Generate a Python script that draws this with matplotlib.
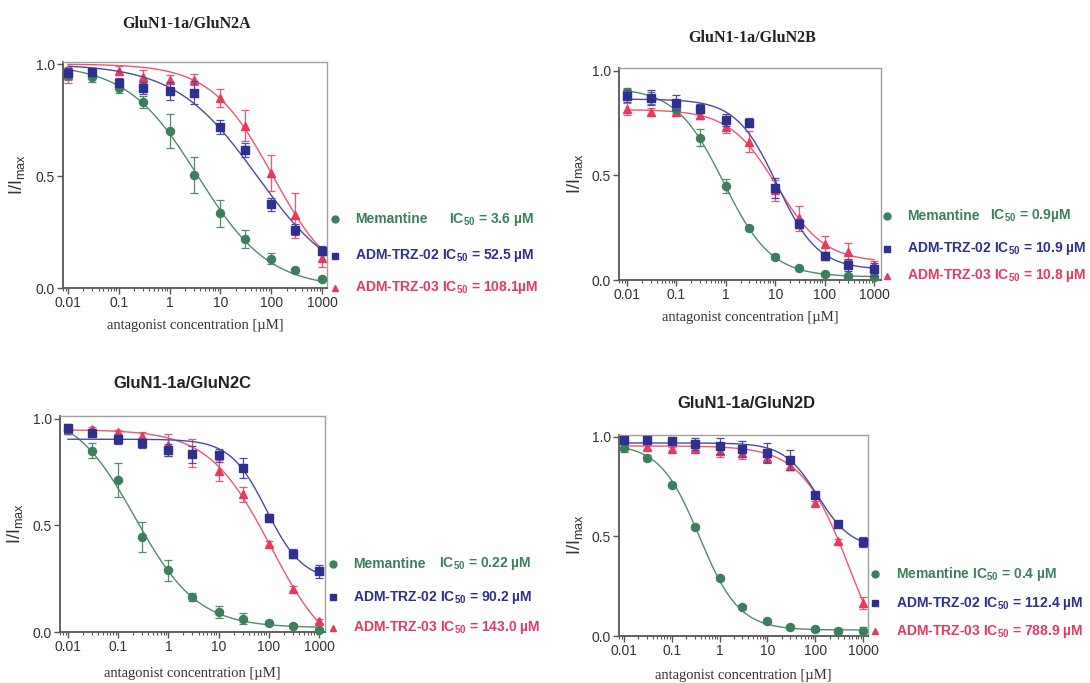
import numpy as np
import matplotlib
matplotlib.use("Agg")
from matplotlib import pyplot as plt
from matplotlib import ticker
from matplotlib.lines import Line2D

plt.rcParams["font.family"] = ["Liberation Sans", "DejaVu Sans"]
plt.rcParams["mathtext.default"] = "regular"

W, H = 1090, 683

GREEN = "#3d7f5c"
BLUE = "#2f2f8f"
RED = "#e8395c"
GREEN_LINE = "#4f8c6c"
BLUE_LINE = "#4a4aa3"
RED_LINE = "#ef5573"

conc = [0.01, 0.03, 0.1, 0.3, 1, 3, 10, 30, 100, 300, 1000]

# GluN2A
a_mem = [0.95, 0.94, 0.895, 0.83, 0.70, 0.505, 0.334, 0.22, 0.13, 0.079, 0.04]
a_mem_err = [0.02, 0.02, 0.025, 0.025, 0.075, 0.08, 0.06, 0.04, 0.025, 0.01, 0.01]
a_02 = [0.96, 0.966, 0.917, 0.893, 0.881, 0.872, 0.719, 0.617, 0.374, 0.26, 0.166]
a_02_err = [0.02, 0.015, 0.02, 0.025, 0.04, 0.05, 0.03, 0.03, 0.03, 0.025, 0.02]
a_03 = [0.95, 0.96, 0.97, 0.944, 0.93, 0.93, 0.847, 0.725, 0.513, 0.324, 0.134]
a_03_err = [0.035, 0.02, 0.02, 0.03, 0.02, 0.025, 0.04, 0.07, 0.08, 0.1, 0.04]

# GluN2B
b_mem = [0.90, 0.87, 0.817, 0.68, 0.45, 0.25, 0.112, 0.056, 0.029, 0.019, 0.016]
b_mem_err = [0.02, 0.03, 0.02, 0.04, 0.035, 0.01, 0.01, 0.01, 0.01, 0.01, 0.01]
b_02 = [0.88, 0.872, 0.848, 0.82, 0.765, 0.753, 0.44, 0.27, 0.116, 0.072, 0.051]
b_02_err = [0.03, 0.035, 0.035, 0.02, 0.03, 0.02, 0.05, 0.02, 0.02, 0.03, 0.03]
b_03 = [0.817, 0.804, 0.805, 0.788, 0.73, 0.662, 0.43, 0.295, 0.17, 0.136, 0.07]
b_03_err = [0.03, 0.02, 0.02, 0.02, 0.025, 0.05, 0.05, 0.06, 0.04, 0.04, 0.02]

# GluN2C
c_mem = [0.948, 0.85, 0.713, 0.447, 0.29, 0.165, 0.094, 0.063, 0.042, 0.027, 0.011]
c_mem_err = [0.02, 0.035, 0.08, 0.07, 0.05, 0.02, 0.03, 0.025, 0.01, 0.01, 0.01]
c_02 = [0.956, 0.933, 0.904, 0.886, 0.854, 0.834, 0.83, 0.77, 0.536, 0.368, 0.285]
c_02_err = [0.02, 0.015, 0.02, 0.02, 0.03, 0.04, 0.03, 0.045, 0.02, 0.02, 0.03]
c_03 = [0.95, 0.951, 0.937, 0.92, 0.878, 0.84, 0.757, 0.646, 0.415, 0.204, 0.05]
c_03_err = [0.02, 0.01, 0.01, 0.02, 0.05, 0.065, 0.05, 0.035, 0.01, 0.01, 0.01]

# GluN2D
d_mem = [0.945, 0.894, 0.76, 0.55, 0.29, 0.148, 0.076, 0.047, 0.034, 0.025, 0.025]
d_mem_err = [0.02, 0.015, 0.01, 0.01, 0.01, 0.01, 0.01, 0.01, 0.01, 0.015, 0.02]
d_02 = [0.987, 0.983, 0.978, 0.966, 0.953, 0.94, 0.92, 0.886, 0.71, 0.562, 0.47]
d_02_err = [0.015, 0.01, 0.01, 0.03, 0.04, 0.04, 0.05, 0.05, 0.01, 0.01, 0.025]
d_03 = [0.953, 0.95, 0.94, 0.94, 0.928, 0.92, 0.894, 0.852, 0.668, 0.475, 0.168]
d_03_err = [0.01, 0.01, 0.01, 0.01, 0.03, 0.03, 0.02, 0.02, 0.01, 0.01, 0.03]

# Hill fit parameters: top, bottom, midpoint, slope
a_fits = [(1.0, 0.0, 3.6, 0.62), (1.0, 0.0, 52.5, 0.54), (1.0, 0.0, 108.1, 0.71)]
b_fits = [(0.92, 0.015, 0.9, 0.9), (0.865, 0.05, 10.9, 1.05), (0.815, 0.085, 10.8, 0.9)]
c_fits = [(1.05, 0.02, 0.22, 0.7), (0.905, 0.24, 90.2, 1.2), (0.95, -0.15, 110, 0.7)]
d_fits = [(0.965, 0.03, 0.38, 1.05), (0.97, 0.44, 112.4, 1.23), (0.955, -0.3, 550, 0.85)]

names = ["Memantine", "ADM-TRZ-02", "ADM-TRZ-03"]
a_ic50 = ["IC$_{50}$ = 3.6 µM", "IC$_{50}$ = 52.5 µM", "IC$_{50}$ = 108.1µM"]
b_ic50 = ["IC$_{50}$ = 0.9µM", "IC$_{50}$ = 10.9 µM", "IC$_{50}$ = 10.8 µM"]
c_ic50 = ["IC$_{50}$ = 0.22 µM", "IC$_{50}$ = 90.2 µM", "IC$_{50}$ = 143.0 µM"]
d_ic50 = ["IC$_{50}$ = 0.4 µM", "IC$_{50}$ = 112.4 µM", "IC$_{50}$ = 788.9 µM"]

titles = ["GluN1-1a/GluN2A", "GluN1-1a/GluN2B", "GluN1-1a/GluN2C", "GluN1-1a/GluN2D"]

SERIF = ["Liberation Serif", "DejaVu Serif"]


def hill(x, top, bottom, mid, n):
    return bottom + (top - bottom) / (1 + (x / mid) ** n)


def fx(x):
    return x / W


def fy(y):
    return 1 - y / H


fig = plt.figure(figsize=(W / 100, H / 100), dpi=100)

panels = [
    dict(box=(63, 62, 327, 288), xl=(-2.098, 3.098), yt=1.009,
         data=[(a_mem, a_mem_err), (a_02, a_02_err), (a_03, a_03_err)], fits=a_fits, ic=a_ic50,
         title=(187, 24, "serif"), xlab=(195, 325), ylab=(17, 175),
         leg_x=335, leg_rows=[219, 256, 288], name_x=355, ic_x=449),
    dict(box=(619, 68, 881, 280), xl=(-2.162, 3.142), yt=1.014,
         data=[(b_mem, b_mem_err), (b_02, b_02_err), (b_03, b_03_err)], fits=b_fits, ic=b_ic50,
         title=(752, 38, "serif"), xlab=(750, 318), ylab=(575, 174),
         leg_x=887, leg_rows=[216, 249, 276], name_x=907, ic_x=990),
    dict(box=(60, 416, 325, 632), xl=(-2.159, 3.12), yt=1.014,
         data=[(c_mem, c_mem_err), (c_02, c_02_err), (c_03, c_03_err)], fits=c_fits, ic=c_ic50,
         title=(182, 383, "sans"), xlab=(192, 673), ylab=(15, 524),
         leg_x=333, leg_rows=[564, 597, 628], name_x=353, ic_x=439),
    dict(box=(619, 435, 868, 636), xl=(-2.105, 3.105), yt=1.01,
         data=[(d_mem, d_mem_err), (d_02, d_02_err), (d_03, d_03_err)], fits=d_fits, ic=d_ic50,
         title=(746, 403, "sans"), xlab=(743, 675), ylab=(575, 535),
         leg_x=875, leg_rows=[574, 603, 631], name_x=896, ic_x=None),
]

colors = [GREEN, BLUE, RED]
line_colors = [GREEN_LINE, BLUE_LINE, RED_LINE]
markers = ["o", "s", "^"]
msizes = [5.8, 6.2, 6.2]
zorders = [4, 5, 3]
xs = np.logspace(-2, 3, 300)

for i, p in enumerate(panels):
    l, t, r, b = p["box"]
    ax = fig.add_axes([fx(l), fy(b), (r - l) / W, (b - t) / H])
    ax.set_xscale("log")
    ax.set_xlim(10 ** p["xl"][0], 10 ** p["xl"][1])
    ax.set_ylim(0, p["yt"])

    for k in [2, 1, 0]:
        vals, err = p["data"][k]
        ax.plot(xs, hill(xs, *p["fits"][k]), color=line_colors[k], lw=1.0, zorder=zorders[k] - 1)
        ax.errorbar(conc, vals, yerr=err, fmt=markers[k], ms=msizes[k], color=colors[k],
                    mec=colors[k], ecolor=line_colors[k], elinewidth=0.9, capsize=3,
                    capthick=0.9, zorder=zorders[k], clip_on=False)

    ax.set_yticks([0.0, 0.5, 1.0])
    ax.yaxis.set_major_formatter(ticker.FormatStrFormatter("%.1f"))
    ax.set_xticks([0.01, 0.1, 1, 10, 100, 1000])
    ax.xaxis.set_major_formatter(ticker.FuncFormatter(lambda v, pos: "%g" % v))
    ax.xaxis.set_minor_locator(ticker.LogLocator(base=10, subs=np.arange(2, 10), numticks=20))
    ax.xaxis.set_minor_formatter(ticker.NullFormatter())
    ax.tick_params(axis="both", which="major", labelsize=10, color="#555555", labelcolor="#333333",
                   length=4, width=1.0, pad=2)
    ax.tick_params(axis="x", which="minor", length=2.5, width=0.8, color="#555555")
    for s in ["left", "bottom"]:
        ax.spines[s].set_color("#555555")
        ax.spines[s].set_linewidth(1.3)
    for s in ["top", "right"]:
        ax.spines[s].set_color("#a0a0a0")
        ax.spines[s].set_linewidth(1.0)

    tx, ty, tf = p["title"]
    if tf == "serif":
        fig.text(fx(tx), fy(ty), titles[i], ha="center", va="center", fontsize=11.5,
                 fontweight="bold", family=SERIF, color="#222222")
    else:
        fig.text(fx(tx), fy(ty), titles[i], ha="center", va="center", fontsize=12,
                 fontweight="bold", color="#222222")

    fig.text(fx(p["xlab"][0]), fy(p["xlab"][1]), "antagonist concentration [µM]", ha="center",
             va="center", fontsize=10.5, family=SERIF, color="#333333")
    fig.text(fx(p["ylab"][0]), fy(p["ylab"][1]), "I/I$_{max}$", ha="center", va="center",
             rotation=90, fontsize=13, color="#333333")

    for k in range(3):
        yrow = p["leg_rows"][k]
        fig.add_artist(Line2D([fx(p["leg_x"])], [fy(yrow)], transform=fig.transFigure,
                              marker=markers[k], ms=5, color=colors[k], ls="none"))
        if p["ic_x"] is not None and k == 0:
            fig.text(fx(p["name_x"]), fy(yrow), names[k], ha="left", va="center",
                     fontsize=10, fontweight="bold", color=colors[k])
            fig.text(fx(p["ic_x"]), fy(yrow), p["ic"][k], ha="left", va="center",
                     fontsize=10, fontweight="bold", color=colors[k])
        else:
            fig.text(fx(p["name_x"]), fy(yrow), names[k] + " " + p["ic"][k], ha="left",
                     va="center", fontsize=10, fontweight="bold", color=colors[k])

fig.savefig("out.png", dpi=100)
